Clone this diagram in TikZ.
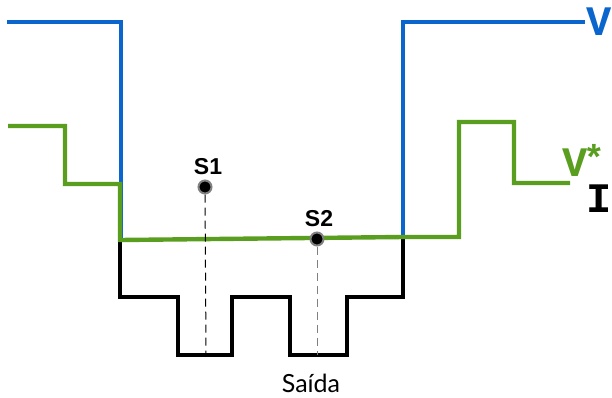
\documentclass[tikz,border=0pt]{standalone}
\usepackage{fontspec}
\setmainfont{Lato}
\newfontfamily\labelfont{Liberation Sans}
\newfontfamily\tracefont{Liberation Mono}
\usetikzlibrary{positioning}
\definecolor{vblue}{HTML}{0A66CC}
\definecolor{vgreen}{HTML}{5A9E20}
\definecolor{dotrim}{HTML}{808080}
\tikzset{
  % Signal traces
  vtrace/.style={draw=vblue, line width=3.3pt},
  vstar/.style={draw=vgreen, line width=4.4pt},
  itrace/.style={draw=black, line width=3.6pt},
  % Sample points and their drop lines
  sample/.style={circle, fill=black, draw=dotrim, line width=2pt,
    inner sep=0pt, minimum size=13pt},
  drop/.style={dashed, dash pattern=on 8pt off 5pt, line width=1pt},
  % Labels
  slbl/.style={font=\labelfont\bfseries\fontsize{23}{23}\selectfont, inner sep=1pt},
  tlbl/.style={font=\tracefont\bfseries\fontsize{42}{42}\selectfont, inner sep=0pt},
}

\begin{document}
\begin{tikzpicture}[x=1pt, y=-1pt]
\useasboundingbox (0,0) rectangle (612,397);

% output trace
\draw[itrace] (120,240) -- (120,297) -- (178,297) -- (178,355) -- (232,355)
  -- (232,297) -- (290,297) -- (290,355) -- (347,355) -- (347,297)
  -- (403,297) -- (403,237);

% V
\draw[vtrace] (7,22) -- (121,22) -- (121,240);
\draw[vtrace] (403,237) -- (403,22) -- (585,22);

% V*
\draw[vstar] (8,126) -- (65,126) -- (65,184) -- (120,184) -- (120,240)
  -- (403,237) -- (459,237) -- (459,122) -- (514,122) -- (514,183) -- (570,183);

% sample points
\coordinate (s1base) at (206,355);
\coordinate (s2base) at (317,355);
\node[sample] (s1) at (205,187) {};
\node[sample] (s2) at (317,239) {};
\draw[drop, black] (s1) -- (s1base);
\draw[drop, dotrim] (s2) -- (s2base);

\node[slbl, above=4pt of s1, xshift=3pt] (s1lbl) {S1};
\node[slbl, above=4pt of s2, xshift=2pt] (s2lbl) {S2};

\node[font=\fontsize{25}{25}\selectfont] (out) at (311,383) {Saída};

\node[tlbl, text=vblue] (vlbl) at (599,22) {V};
\node[tlbl, text=vgreen, anchor=base west] (vslbl) at (562,176)
  {V\kern-4pt\raisebox{6pt}{\fontsize{36}{36}\selectfont *}};
\node[tlbl] (ilbl) at (599,199) {I};

\end{tikzpicture}
\end{document}
